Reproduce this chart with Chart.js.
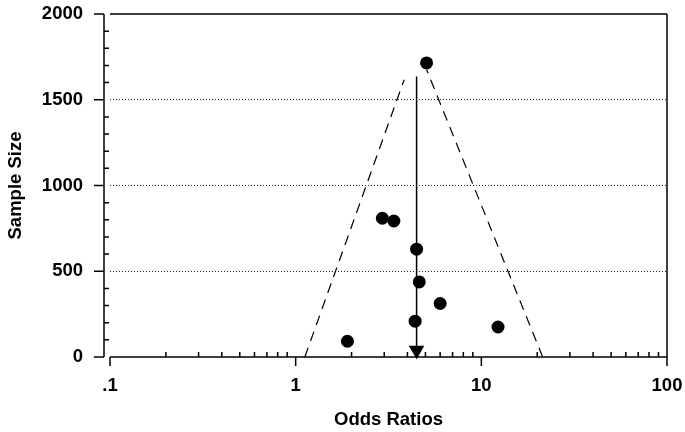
<!DOCTYPE html>
<html>
<head>
<meta charset="utf-8">
<script src="https://cdn.jsdelivr.net/npm/chart.js@4.4.0/dist/chart.umd.min.js"></script>
<style>
  html, body { margin: 0; padding: 0; background: #fff; }
  #wrap { width: 685px; height: 432px; }
</style>
</head>
<body>
<div id="wrap"><canvas id="funnelCanvas"></canvas></div>
<script>
// studies
const oddsRatios  = [5.07, 2.93, 3.38, 4.48, 4.63, 6.00, 4.40, 12.3, 1.90];
const sampleSizes = [1715, 809, 793, 629, 438, 312, 209, 175, 92];

// pooled estimate: vertical line + arrow
const pooledOR = 4.48;
const pooledLineN = [1636, 0];
const arrowN = 40;

// funnel limits (dashed)
const funnelLeftOR  = [1.12, 3.84];
const funnelLeftN   = [0, 1617];
const funnelRightOR = [21.4, 5.07];
const funnelRightN  = [0, 1676];

// axes
const xTicks  = [0.1, 1, 10, 100];
const xLabels = ['.1', '1', '10', '100'];
const yTicks  = [0, 500, 1000, 1500, 2000];
const yGrid   = [500, 1000, 1500];

const fuente = { family: '"Liberation Sans", Arial, sans-serif', size: 18.5, weight: 'bold' };

const ejesPlugin = {
    id: 'ejes',
    beforeDatasetsDraw(chart) {
        const { ctx, chartArea: a, scales: { x, y } } = chart;
        const yAxisX = a.left - 6;
        ctx.save();
        ctx.strokeStyle = '#000';
        ctx.lineWidth = 1.5;
        ctx.beginPath();
        // frame
        ctx.moveTo(yAxisX, a.top); ctx.lineTo(yAxisX, a.bottom);
        ctx.moveTo(a.left, a.bottom); ctx.lineTo(a.right, a.bottom);
        ctx.moveTo(a.left, a.top); ctx.lineTo(a.right, a.top);
        ctx.moveTo(a.right, a.top); ctx.lineTo(a.right, a.bottom);
        // y major ticks (outside) and minor ticks (inside)
        yTicks.forEach(v => {
            const py = y.getPixelForValue(v);
            ctx.moveTo(yAxisX - 10, py); ctx.lineTo(yAxisX, py);
        });
        for (let v = 100; v < 2000; v += 100) {
            if (v % 500 === 0) continue;
            const py = y.getPixelForValue(v);
            ctx.moveTo(yAxisX, py); ctx.lineTo(yAxisX + 5, py);
        }
        // x major ticks (down) and minor ticks (up)
        xTicks.forEach(v => {
            const px = x.getPixelForValue(v);
            ctx.moveTo(px, a.bottom); ctx.lineTo(px, a.bottom + 9);
        });
        xTicks.slice(0, -1).forEach(base => {
            for (let m = 2; m <= 9; m++) {
                const px = x.getPixelForValue(base * m);
                ctx.moveTo(px, a.bottom); ctx.lineTo(px, a.bottom - 5);
            }
        });
        ctx.stroke();
        ctx.restore();
    }
};

const ctx = document.getElementById('funnelCanvas').getContext('2d');
new Chart(ctx, {
    type: 'scatter',
    data: {
        datasets: [
            { label: 'Estudios', data: oddsRatios.map((v, i) => ({ x: v, y: sampleSizes[i] })), backgroundColor: '#000', borderWidth: 0, pointRadius: 6.5, clip: false },
            { label: 'Pooled', data: pooledLineN.map(n => ({ x: pooledOR, y: n })), showLine: true, borderColor: '#000', borderWidth: 1.5, pointRadius: 0, clip: false },
            { label: 'Flecha', data: [{ x: pooledOR, y: arrowN }], pointStyle: 'triangle', rotation: 180, pointRadius: 9, backgroundColor: '#000', borderWidth: 0, clip: false },
            { label: 'Limite izq', data: funnelLeftOR.map((v, i) => ({ x: v, y: funnelLeftN[i] })), showLine: true, borderColor: '#000', borderWidth: 1.2, borderDash: [10, 7], pointRadius: 0, clip: false },
            { label: 'Limite der', data: funnelRightOR.map((v, i) => ({ x: v, y: funnelRightN[i] })), showLine: true, borderColor: '#000', borderWidth: 1.2, borderDash: [10, 7], pointRadius: 0, clip: false }
        ]
    },
    options: {
        responsive: true,
        maintainAspectRatio: false,
        animation: false,
        layout: { padding: { left: 0, right: 18, top: 14, bottom: 0 } },
        plugins: { legend: { display: false }, tooltip: { enabled: false } },
        scales: {
            x: {
                type: 'logarithmic',
                min: 0.1,
                max: 100,
                afterBuildTicks: s => { s.ticks = xTicks.map(v => ({ value: v })); },
                afterFit: s => { s.height = 75; s.paddingLeft = 0; s.paddingRight = 0; },
                ticks: { callback: (v, i) => xLabels[i], font: fuente, color: '#000', padding: 10, maxRotation: 0, autoSkip: false },
                grid: { display: false },
                border: { display: false },
                title: { display: true, text: 'Odds Ratios', font: fuente, color: '#000', padding: { top: 0, bottom: 1 } }
            },
            y: {
                min: 0,
                max: 2000,
                afterBuildTicks: s => { s.ticks = yTicks.map(v => ({ value: v })); },
                afterFit: s => { s.width = 110; s.paddingTop = 0; s.paddingBottom = 0; },
                ticks: { callback: v => String(v), font: fuente, color: '#000', padding: 27 },
                grid: { drawTicks: false, lineWidth: 1, color: c => yGrid.includes(c.tick && c.tick.value) ? '#222' : 'transparent' },
                border: { display: false, dash: [1, 2] },
                title: { display: true, text: 'Sample Size', font: fuente, color: '#000', padding: { top: 5, bottom: 0 } }
            }
        }
    },
    plugins: [ejesPlugin]
});
</script>
</body>
</html>
